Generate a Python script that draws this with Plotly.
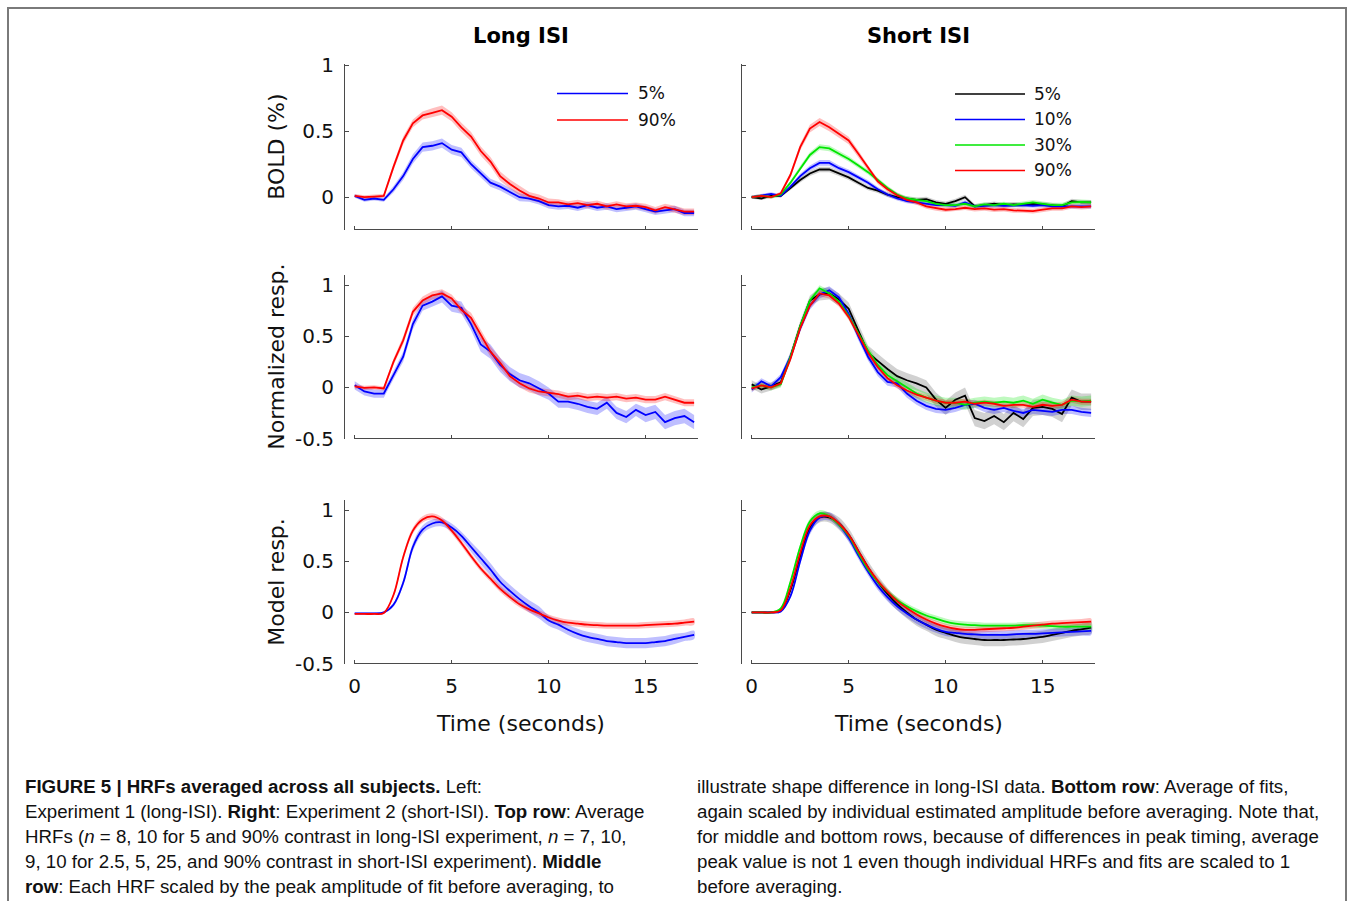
import plotly.graph_objects as go

W, H = 1356, 901

# ---------------- data ----------------
TIME = [0.0, 0.5, 1.0, 1.5, 2.0, 2.5, 3.0, 3.5, 4.0, 4.5, 5.0, 5.5, 6.0, 6.5, 7.0, 7.5, 8.0, 8.5,
        9.0, 9.5, 10.0, 10.5, 11.0, 11.5, 12.0, 12.5, 13.0, 13.5, 14.0, 14.5, 15.0, 15.5, 16.0, 16.5, 17.0, 17.5]

COL_TITLES = ["Long ISI", "Short ISI"]
ROW_TITLES = ["BOLD (%)", "Normalized resp.", "Model resp."]
X_TITLE = "Time (seconds)"
X_TICKS = [0, 5, 10, 15]
Y_TICKS_TOP = [0, 0.5, 1]
Y_TICKLABELS_TOP = ["0", "0.5", "1"]
Y_TICKS_LOW = [-0.5, 0, 0.5, 1]
Y_TICKLABELS_LOW = ["-0.5", "0", "0.5", "1"]

LONG_LABELS = ["5%", "90%"]
SHORT_LABELS = ["5%", "10%", "30%", "90%"]

# --- top row, long ISI (BOLD %) ---
bold_long_5 = [0.01, -0.02, -0.01, -0.02, 0.06, 0.16, 0.29, 0.38, 0.39, 0.41, 0.36, 0.34, 0.25, 0.18, 0.11, 0.08, 0.04, 0.0,
               -0.01, -0.03, -0.06, -0.07, -0.065, -0.08, -0.06, -0.08, -0.07, -0.09, -0.08, -0.07, -0.09, -0.11, -0.10, -0.09, -0.12, -0.12]
bold_long_5_se = [0.015, 0.015, 0.015, 0.015, 0.025, 0.03, 0.035, 0.035, 0.035, 0.035, 0.035, 0.035, 0.03, 0.03, 0.03, 0.03, 0.03, 0.03,
                  0.025, 0.025, 0.025, 0.025, 0.025, 0.025, 0.025, 0.025, 0.025, 0.025, 0.025, 0.025, 0.025, 0.025, 0.025, 0.025, 0.025, 0.025]
bold_long_90 = [0.01, 0.0, 0.005, 0.01, 0.23, 0.43, 0.56, 0.62, 0.64, 0.66, 0.61, 0.53, 0.46, 0.35, 0.27, 0.16, 0.10, 0.05,
                0.01, -0.01, -0.04, -0.04, -0.055, -0.045, -0.06, -0.05, -0.07, -0.055, -0.07, -0.065, -0.075, -0.10, -0.075, -0.09, -0.11, -0.11]
bold_long_90_se = [0.015, 0.015, 0.015, 0.015, 0.025, 0.03, 0.03, 0.03, 0.035, 0.035, 0.035, 0.035, 0.035, 0.035, 0.035, 0.035, 0.035, 0.035,
                   0.03, 0.03, 0.03, 0.025, 0.025, 0.025, 0.025, 0.025, 0.025, 0.025, 0.025, 0.025, 0.025, 0.025, 0.025, 0.025, 0.025, 0.025]

# --- top row, short ISI (BOLD %) ---
bold_short_5 = [0.0, -0.01, 0.01, 0.01, 0.07, 0.13, 0.18, 0.21, 0.21, 0.18, 0.15, 0.11, 0.07, 0.05, 0.02, 0.0, -0.01, -0.02,
                -0.015, -0.04, -0.05, -0.03, 0.0, -0.07, -0.06, -0.05, -0.06, -0.055, -0.06, -0.05, -0.055, -0.06, -0.07, -0.03, -0.04, -0.04]
bold_short_5_se = [0.012, 0.012, 0.012, 0.012, 0.015, 0.018, 0.02, 0.02, 0.02, 0.02, 0.02, 0.018, 0.018, 0.018, 0.018, 0.018, 0.018, 0.018,
                   0.018, 0.018, 0.018, 0.018, 0.018, 0.018, 0.018, 0.018, 0.018, 0.018, 0.018, 0.018, 0.018, 0.018, 0.018, 0.018, 0.018, 0.018]
bold_short_10 = [0.0, 0.01, 0.025, 0.01, 0.08, 0.16, 0.22, 0.26, 0.26, 0.22, 0.19, 0.15, 0.11, 0.06, 0.02, -0.01, -0.03, -0.04,
                 -0.05, -0.06, -0.06, -0.065, -0.04, -0.07, -0.065, -0.06, -0.065, -0.06, -0.06, -0.065, -0.06, -0.07, -0.07, -0.07, -0.07, -0.07]
bold_short_10_se = [0.012, 0.012, 0.012, 0.012, 0.015, 0.018, 0.02, 0.022, 0.022, 0.02, 0.02, 0.018, 0.018, 0.018, 0.016, 0.016, 0.016, 0.016,
                    0.016, 0.016, 0.016, 0.016, 0.016, 0.016, 0.016, 0.016, 0.016, 0.016, 0.016, 0.016, 0.016, 0.016, 0.016, 0.016, 0.016, 0.016]
bold_short_30 = [0.0, 0.01, 0.0, 0.02, 0.11, 0.22, 0.32, 0.38, 0.37, 0.33, 0.29, 0.24, 0.19, 0.13, 0.07, 0.02, -0.01, -0.02,
                 -0.03, -0.05, -0.06, -0.06, -0.05, -0.07, -0.055, -0.06, -0.05, -0.06, -0.05, -0.04, -0.05, -0.06, -0.06, -0.04, -0.035, -0.04]
bold_short_30_se = [0.012, 0.012, 0.012, 0.012, 0.015, 0.018, 0.02, 0.022, 0.022, 0.02, 0.02, 0.018, 0.018, 0.018, 0.016, 0.016, 0.016, 0.016,
                    0.016, 0.016, 0.016, 0.016, 0.016, 0.016, 0.016, 0.016, 0.016, 0.016, 0.016, 0.018, 0.018, 0.018, 0.018, 0.018, 0.018, 0.018]
bold_short_90 = [0.0, 0.01, 0.0, 0.03, 0.17, 0.38, 0.52, 0.57, 0.53, 0.48, 0.43, 0.33, 0.22, 0.12, 0.06, 0.015, -0.02, -0.04,
                 -0.07, -0.085, -0.095, -0.09, -0.08, -0.09, -0.085, -0.095, -0.09, -0.10, -0.10, -0.105, -0.095, -0.085, -0.085, -0.07, -0.075, -0.07]
bold_short_90_se = [0.012, 0.012, 0.012, 0.012, 0.02, 0.025, 0.03, 0.03, 0.03, 0.03, 0.028, 0.025, 0.022, 0.02, 0.02, 0.018, 0.018, 0.018,
                    0.018, 0.018, 0.018, 0.018, 0.018, 0.018, 0.018, 0.018, 0.018, 0.018, 0.018, 0.018, 0.018, 0.018, 0.018, 0.018, 0.018, 0.018]

# --- middle row, long ISI (normalized) ---
norm_long_5 = [0.02, -0.04, -0.06, -0.06, 0.12, 0.30, 0.62, 0.80, 0.84, 0.89, 0.80, 0.78, 0.62, 0.42, 0.35, 0.22, 0.13, 0.07,
               0.04, -0.01, -0.06, -0.14, -0.14, -0.16, -0.19, -0.21, -0.15, -0.25, -0.29, -0.22, -0.27, -0.24, -0.34, -0.30, -0.28, -0.34]
norm_long_5_se = [0.04, 0.04, 0.04, 0.04, 0.04, 0.05, 0.05, 0.05, 0.05, 0.06, 0.06, 0.06, 0.06, 0.07, 0.07, 0.07, 0.07, 0.07,
                  0.07, 0.07, 0.06, 0.06, 0.06, 0.06, 0.06, 0.06, 0.06, 0.06, 0.06, 0.06, 0.07, 0.07, 0.07, 0.07, 0.07, 0.07]
norm_long_90 = [0.01, -0.005, 0.0, -0.01, 0.25, 0.46, 0.74, 0.85, 0.90, 0.92, 0.87, 0.76, 0.68, 0.51, 0.35, 0.24, 0.11, 0.04,
                -0.01, -0.04, -0.055, -0.065, -0.09, -0.08, -0.10, -0.09, -0.10, -0.09, -0.11, -0.10, -0.12, -0.12, -0.09, -0.12, -0.15, -0.15]
norm_long_90_se = [0.02, 0.02, 0.02, 0.02, 0.03, 0.04, 0.04, 0.04, 0.04, 0.04, 0.04, 0.04, 0.05, 0.05, 0.05, 0.05, 0.04, 0.04,
                   0.04, 0.035, 0.035, 0.035, 0.035, 0.035, 0.035, 0.035, 0.035, 0.035, 0.035, 0.035, 0.035, 0.035, 0.035, 0.035, 0.035, 0.035]

# --- middle row, short ISI (normalized) ---
norm_short_5 = [0.03, -0.02, 0.01, 0.05, 0.30, 0.60, 0.85, 0.91, 0.92, 0.86, 0.77, 0.56, 0.34, 0.26, 0.18, 0.11, 0.07, 0.04,
                0.0, -0.12, -0.20, -0.12, -0.08, -0.30, -0.33, -0.28, -0.34, -0.25, -0.31, -0.20, -0.19, -0.21, -0.26, -0.10, -0.14, -0.14]
norm_short_5_se = [0.04, 0.04, 0.04, 0.04, 0.05, 0.05, 0.05, 0.06, 0.06, 0.06, 0.06, 0.06, 0.07, 0.07, 0.07, 0.07, 0.07, 0.07,
                   0.07, 0.07, 0.07, 0.07, 0.08, 0.08, 0.08, 0.08, 0.08, 0.08, 0.08, 0.08, 0.08, 0.08, 0.08, 0.08, 0.08, 0.08]
norm_short_10 = [-0.02, 0.06, 0.01, 0.10, 0.30, 0.58, 0.80, 0.91, 0.95, 0.88, 0.72, 0.50, 0.30, 0.15, 0.055, 0.04, -0.06, -0.13,
                 -0.18, -0.21, -0.22, -0.20, -0.17, -0.16, -0.20, -0.22, -0.20, -0.23, -0.25, -0.22, -0.23, -0.24, -0.22, -0.22, -0.24, -0.25]
norm_short_10_se = [0.03, 0.03, 0.03, 0.03, 0.04, 0.04, 0.04, 0.04, 0.04, 0.04, 0.04, 0.04, 0.04, 0.04, 0.04, 0.04, 0.04, 0.04,
                    0.04, 0.04, 0.04, 0.04, 0.04, 0.04, 0.04, 0.04, 0.04, 0.04, 0.04, 0.04, 0.04, 0.04, 0.04, 0.04, 0.04, 0.04]
norm_short_30 = [0.0, 0.02, 0.0, 0.03, 0.30, 0.60, 0.85, 0.97, 0.92, 0.84, 0.70, 0.53, 0.36, 0.22, 0.12, 0.06, 0.0, -0.06,
                 -0.10, -0.13, -0.15, -0.15, -0.17, -0.15, -0.14, -0.15, -0.14, -0.15, -0.13, -0.16, -0.12, -0.15, -0.17, -0.13, -0.14, -0.13]
norm_short_30_se = [0.03, 0.03, 0.03, 0.03, 0.03, 0.03, 0.03, 0.03, 0.03, 0.03, 0.035, 0.04, 0.04, 0.04, 0.045, 0.05, 0.05, 0.05,
                    0.05, 0.05, 0.05, 0.05, 0.05, 0.05, 0.05, 0.05, 0.05, 0.05, 0.05, 0.05, 0.05, 0.05, 0.05, 0.05, 0.05, 0.05]
norm_short_90 = [-0.01, 0.02, 0.0, 0.04, 0.28, 0.58, 0.80, 0.92, 0.90, 0.82, 0.69, 0.52, 0.34, 0.20, 0.09, 0.02, -0.03, -0.07,
                 -0.10, -0.13, -0.15, -0.15, -0.14, -0.16, -0.15, -0.16, -0.18, -0.17, -0.17, -0.19, -0.17, -0.18, -0.17, -0.12, -0.14, -0.14]
norm_short_90_se = [0.025, 0.025, 0.025, 0.025, 0.03, 0.03, 0.03, 0.03, 0.03, 0.03, 0.03, 0.03, 0.03, 0.03, 0.03, 0.03, 0.03, 0.03,
                    0.03, 0.03, 0.03, 0.03, 0.03, 0.03, 0.03, 0.03, 0.03, 0.03, 0.03, 0.03, 0.03, 0.03, 0.03, 0.03, 0.03, 0.03]

# --- bottom row, long ISI (model fits) ---
model_long_5 = [-0.01, -0.01, -0.01, 0.0, 0.075, 0.29, 0.64, 0.81, 0.87, 0.88, 0.83, 0.75, 0.64, 0.53, 0.42, 0.30, 0.21, 0.13,
                0.06, 0.0, -0.08, -0.12, -0.17, -0.21, -0.24, -0.26, -0.28, -0.29, -0.30, -0.30, -0.30, -0.29, -0.28, -0.26, -0.24, -0.22]
model_long_5_se = [0.01, 0.01, 0.01, 0.01, 0.02, 0.03, 0.04, 0.04, 0.04, 0.04, 0.04, 0.04, 0.05, 0.06, 0.06, 0.06, 0.06, 0.06,
                   0.06, 0.06, 0.05, 0.05, 0.05, 0.05, 0.05, 0.05, 0.05, 0.05, 0.05, 0.05, 0.05, 0.05, 0.05, 0.05, 0.04, 0.04]
model_long_90 = [-0.015, -0.015, -0.015, -0.005, 0.17, 0.54, 0.80, 0.91, 0.94, 0.90, 0.80, 0.68, 0.55, 0.43, 0.33, 0.23, 0.15, 0.08,
                 0.03, -0.01, -0.05, -0.08, -0.10, -0.11, -0.12, -0.125, -0.13, -0.13, -0.13, -0.13, -0.125, -0.12, -0.115, -0.11, -0.10, -0.09]
model_long_90_se = [0.01, 0.01, 0.01, 0.01, 0.02, 0.03, 0.03, 0.03, 0.03, 0.03, 0.03, 0.03, 0.03, 0.03, 0.03, 0.03, 0.03, 0.03,
                    0.03, 0.03, 0.03, 0.03, 0.03, 0.03, 0.03, 0.03, 0.03, 0.03, 0.03, 0.03, 0.03, 0.03, 0.03, 0.03, 0.03, 0.03]

# --- bottom row, short ISI (model fits) ---
model_short_5 = [0.0, 0.0, 0.0, 0.02, 0.22, 0.55, 0.83, 0.93, 0.93, 0.87, 0.76, 0.60, 0.44, 0.30, 0.18, 0.08, 0.0, -0.07,
                 -0.12, -0.17, -0.20, -0.23, -0.25, -0.26, -0.27, -0.27, -0.27, -0.265, -0.26, -0.25, -0.24, -0.22, -0.20, -0.18, -0.165, -0.15]
model_short_5_se = [0.01, 0.01, 0.01, 0.01, 0.03, 0.04, 0.05, 0.05, 0.05, 0.06, 0.06, 0.06, 0.06, 0.06, 0.06, 0.06, 0.06, 0.06,
                    0.06, 0.06, 0.06, 0.06, 0.06, 0.06, 0.06, 0.06, 0.06, 0.06, 0.06, 0.06, 0.06, 0.06, 0.06, 0.06, 0.06, 0.06]
model_short_10 = [0.0, 0.0, 0.0, 0.01, 0.16, 0.50, 0.80, 0.93, 0.94, 0.86, 0.73, 0.56, 0.40, 0.26, 0.15, 0.06, -0.01, -0.07,
                  -0.12, -0.16, -0.19, -0.20, -0.21, -0.215, -0.22, -0.22, -0.22, -0.215, -0.21, -0.21, -0.205, -0.20, -0.195, -0.19, -0.185, -0.18]
model_short_10_se = [0.01, 0.01, 0.01, 0.01, 0.02, 0.03, 0.04, 0.04, 0.04, 0.04, 0.04, 0.04, 0.04, 0.04, 0.04, 0.04, 0.04, 0.04,
                     0.04, 0.04, 0.04, 0.04, 0.04, 0.04, 0.04, 0.04, 0.04, 0.04, 0.04, 0.04, 0.04, 0.04, 0.04, 0.04, 0.04, 0.04]
model_short_30 = [0.0, 0.0, 0.0, 0.04, 0.30, 0.64, 0.89, 0.97, 0.94, 0.86, 0.75, 0.58, 0.42, 0.30, 0.20, 0.12, 0.06, 0.01,
                  -0.03, -0.06, -0.09, -0.11, -0.12, -0.125, -0.13, -0.13, -0.13, -0.13, -0.125, -0.125, -0.13, -0.135, -0.14, -0.14, -0.14, -0.14]
model_short_30_se = [0.01, 0.01, 0.01, 0.01, 0.02, 0.03, 0.03, 0.03, 0.03, 0.03, 0.03, 0.03, 0.03, 0.03, 0.03, 0.03, 0.03, 0.03,
                     0.03, 0.03, 0.03, 0.03, 0.03, 0.03, 0.03, 0.03, 0.03, 0.03, 0.03, 0.03, 0.03, 0.03, 0.03, 0.03, 0.03, 0.03]
model_short_90 = [0.0, 0.0, 0.0, 0.02, 0.24, 0.58, 0.85, 0.94, 0.94, 0.87, 0.76, 0.60, 0.44, 0.31, 0.20, 0.11, 0.04, -0.02,
                  -0.07, -0.11, -0.14, -0.16, -0.17, -0.17, -0.165, -0.16, -0.155, -0.15, -0.14, -0.13, -0.12, -0.11, -0.105, -0.10, -0.095, -0.09]
model_short_90_se = [0.01, 0.01, 0.01, 0.01, 0.02, 0.03, 0.03, 0.03, 0.03, 0.03, 0.03, 0.03, 0.03, 0.03, 0.03, 0.03, 0.03, 0.03,
                     0.03, 0.03, 0.03, 0.03, 0.03, 0.03, 0.03, 0.03, 0.03, 0.03, 0.03, 0.03, 0.03, 0.03, 0.03, 0.03, 0.03, 0.03]

CAPTION_LEFT = [
    "<b>FIGURE 5 | HRFs averaged across all subjects.</b> Left:",
    "Experiment 1 (long-ISI). <b>Right</b>: Experiment 2 (short-ISI). <b>Top row</b>: Average",
    "HRFs (<i>n</i> = 8, 10 for 5 and 90% contrast in long-ISI experiment, <i>n</i> = 7, 10,",
    "9, 10 for 2.5, 5, 25, and 90% contrast in short-ISI experiment). <b>Middle</b>",
    "<b>row</b>: Each HRF scaled by the peak amplitude of fit before averaging, to",
]
CAPTION_RIGHT = [
    "illustrate shape difference in long-ISI data. <b>Bottom row</b>: Average of fits,",
    "again scaled by individual estimated amplitude before averaging. Note that,",
    "for middle and bottom rows, because of differences in peak timing, average",
    "peak value is not 1 even though individual HRFs and fits are scaled to 1",
    "before averaging.",
]

# ---------------- styling ----------------
C_BLACK = (0, 0, 0)
C_BLUE = (0, 0, 255)
C_GREEN = (0, 230, 0)
C_RED = (255, 0, 0)
LONG_COLORS = [C_BLUE, C_RED]
SHORT_COLORS = [C_BLACK, C_BLUE, C_GREEN, C_RED]

FONT = "DejaVu Sans, Verdana, Arial, sans-serif"
CAP_FONT = "Liberation Sans, Arial, sans-serif"
AX_COLOR = "#4a4a4a"

COL_PX = [(345, 698), (742, 1095)]
ROW_PX = [(64, 229.5), (275, 438.5), (500, 663.5)]
Y_RANGES = [[-0.245, 1.01], [-0.5, 1.1], [-0.5, 1.1]]
X_RANGE = [-0.5, 17.7]
X_END = 17.7

panels = [
    (0, 0, [bold_long_5, bold_long_90], [bold_long_5_se, bold_long_90_se], LONG_COLORS, False),
    (0, 1, [bold_short_5, bold_short_10, bold_short_30, bold_short_90],
     [bold_short_5_se, bold_short_10_se, bold_short_30_se, bold_short_90_se], SHORT_COLORS, False),
    (1, 0, [norm_long_5, norm_long_90], [norm_long_5_se, norm_long_90_se], LONG_COLORS, False),
    (1, 1, [norm_short_5, norm_short_10, norm_short_30, norm_short_90],
     [norm_short_5_se, norm_short_10_se, norm_short_30_se, norm_short_90_se], SHORT_COLORS, False),
    (2, 0, [model_long_5, model_long_90], [model_long_5_se, model_long_90_se], LONG_COLORS, True),
    (2, 1, [model_short_5, model_short_10, model_short_30, model_short_90],
     [model_short_5_se, model_short_10_se, model_short_30_se, model_short_90_se], SHORT_COLORS, True),
]


def rgba(c, a):
    return "rgba(%d,%d,%d,%s)" % (c[0], c[1], c[2], a)


def px_x(x):
    return x / W


def px_y(y):
    return 1 - y / H


fig = go.Figure()
layout_axes = {}
shapes = []
annotations = []

for i, (row, col, means, ses, colors, smooth) in enumerate(panels):
    n = i + 1
    xa = "x" if n == 1 else "x%d" % n
    ya = "y" if n == 1 else "y%d" % n
    shape = "spline" if smooth else "linear"
    # bands
    for m, s, c in zip(means, ses, colors):
        up = [a + b for a, b in zip(m, s)]
        lo = [a - b for a, b in zip(m, s)]
        fig.add_trace(go.Scatter(
            x=TIME + TIME[::-1], y=up + lo[::-1], xaxis=xa, yaxis=ya,
            fill="toself", fillcolor=rgba(c, 0.25 if c != C_BLACK else 0.18),
            line=dict(width=0, shape=shape), mode="lines",
            hoverinfo="skip", showlegend=False))
    # mean lines
    for m, c in zip(means, colors):
        fig.add_trace(go.Scatter(
            x=TIME, y=m, xaxis=xa, yaxis=ya, mode="lines",
            line=dict(color=rgba(c, 1), width=1.8, shape=shape),
            showlegend=False))

    x0, x1 = COL_PX[col]
    y0, y1 = ROW_PX[row]
    bottom = row == 2
    left = col == 0
    layout_axes["xaxis" if n == 1 else "xaxis%d" % n] = dict(
        domain=[px_x(x0), px_x(x1)], range=X_RANGE, anchor=ya, automargin=False,
        showgrid=False, zeroline=False, showline=False,
        ticks="inside", ticklen=4, tickwidth=1, tickcolor=AX_COLOR,
        tickvals=X_TICKS, showticklabels=bottom,
        tickfont=dict(family=FONT, size=20, color="#111"),
        ticklabelstandoff=8,
    )
    tv = Y_TICKS_TOP if row == 0 else Y_TICKS_LOW
    tt = Y_TICKLABELS_TOP if row == 0 else Y_TICKLABELS_LOW
    layout_axes["yaxis" if n == 1 else "yaxis%d" % n] = dict(
        domain=[px_y(y1), px_y(y0)], range=Y_RANGES[row], anchor=xa, automargin=False,
        showgrid=False, zeroline=False, showline=True, linecolor=AX_COLOR, linewidth=1,
        ticks="inside", ticklen=4, tickwidth=1, tickcolor=AX_COLOR,
        tickvals=tv, ticktext=tt, showticklabels=left,
        tickfont=dict(family=FONT, size=20, color="#111"),
        ticklabelstandoff=6,
    )
    # x-axis baseline from 0 to end of data
    shapes.append(dict(type="line", xref=xa, yref=ya + " domain", x0=0, x1=X_END, y0=0, y1=0,
                       line=dict(color=AX_COLOR, width=1)))
    # axis titles
    if left:
        annotations.append(dict(text=ROW_TITLES[row], x=px_x(277), y=px_y((y0 + y1) / 2),
                                xref="paper", yref="paper", textangle=-90, showarrow=False,
                                font=dict(family=FONT, size=22, color="#111"),
                                xanchor="center", yanchor="middle"))
    if bottom:
        annotations.append(dict(text=X_TITLE, x=px_x([520, 918][col]), y=px_y(723),
                                xref="paper", yref="paper", showarrow=False,
                                font=dict(family=FONT, size=22, color="#111"),
                                xanchor="center", yanchor="middle"))

# column titles
for col, t in enumerate(COL_TITLES):
    annotations.append(dict(text="<b>%s</b>" % t, x=px_x([521, 918][col]), y=px_y(36), xref="paper", yref="paper",
                            showarrow=False, font=dict(family=FONT, size=21, color="#000"),
                            xanchor="center", yanchor="middle"))

# legends (line sample + label)
LEG_LONG = dict(x0=557, x1=628, tx=636, ys=[93.5, 120])
LEG_SHORT = dict(x0=955, x1=1025, tx=1032, ys=[94, 119.5, 145, 170.5])
for leg, labels, colors in [(LEG_LONG, LONG_LABELS, LONG_COLORS), (LEG_SHORT, SHORT_LABELS, SHORT_COLORS)]:
    for yy, lab, c in zip(leg["ys"], labels, colors):
        shapes.append(dict(type="line", xref="paper", yref="paper",
                           x0=px_x(leg["x0"]), x1=px_x(leg["x1"]), y0=px_y(yy), y1=px_y(yy),
                           line=dict(color=rgba(c, 1), width=1.5)))
        annotations.append(dict(text=lab, x=px_x(leg["tx"]), y=px_y(yy), xref="paper", yref="paper",
                                showarrow=False, font=dict(family=FONT, size=17, color="#111"),
                                xanchor="left", yanchor="middle"))

# caption
CAP_Y = [786.5, 811.5, 836.5, 861.5, 886.5]
for lines, lx in [(CAPTION_LEFT, 23), (CAPTION_RIGHT, 695)]:
    for yy, txt in zip(CAP_Y, lines):
        annotations.append(dict(text=txt, x=px_x(lx), y=px_y(yy), xref="paper", yref="paper",
                                showarrow=False, font=dict(family=CAP_FONT, size=18.7, color="#111"),
                                xanchor="left", yanchor="middle"))

# outer frame
shapes.append(dict(type="rect", xref="paper", yref="paper", x0=px_x(8), x1=px_x(1346), y0=px_y(8), y1=px_y(940),
                   line=dict(color="#7a7a7a", width=2), fillcolor="rgba(0,0,0,0)"))

fig.update_layout(
    width=W, height=H, margin=dict(l=0, r=0, t=0, b=0, pad=0, autoexpand=False),
    paper_bgcolor="white", plot_bgcolor="white",
    shapes=shapes, annotations=annotations, showlegend=False,
    **layout_axes,
)

fig.write_html("out.html")
